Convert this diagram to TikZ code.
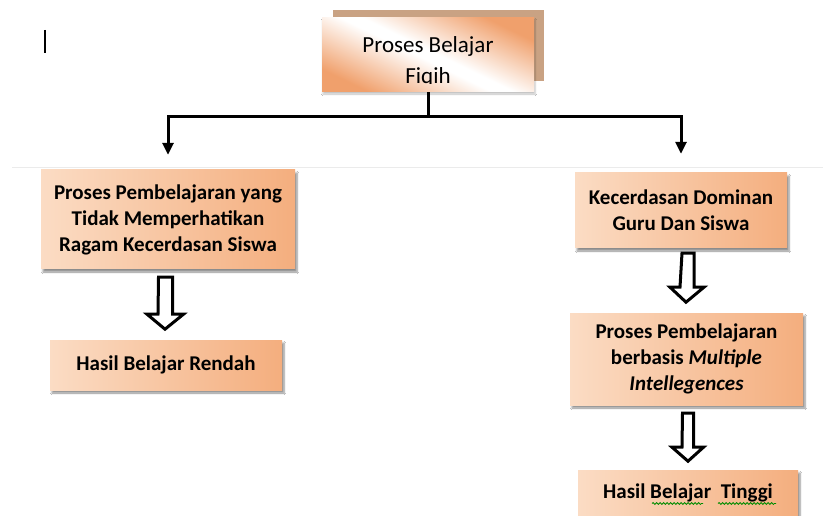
\documentclass[tikz,border=0pt]{standalone}
\usepackage{fontspec}
\setmainfont{Carlito}
\usetikzlibrary{calc,arrows.meta,shadows.blur,decorations.pathmorphing}
\definecolor{peachL}{HTML}{FBDCC4}
\definecolor{peachR}{HTML}{F4AE7E}
\definecolor{topO}{HTML}{F0A06C}
\definecolor{topShadow}{HTML}{C9A283}
\pgfdeclarehorizontalshading{streak}{100bp}{color(0bp)=(topO); color(25bp)=(topO); color(48bp)=(white); color(52bp)=(white); color(75bp)=(topO); color(100bp)=(topO)}
\tikzset{
  box/.style={draw=none, shading=axis, left color=peachL, right color=peachR,
    inner sep=0pt, align=center,
    font=\bfseries\fontsize{21}{26}\selectfont,
    blur shadow={shadow xshift=2pt, shadow yshift=-3pt, shadow blur steps=6, shadow opacity=45}},
  topbox/.style={draw=none, shading=streak, shading angle=64, inner sep=0pt,
    blur shadow={shadow xshift=1pt, shadow yshift=-2pt, shadow blur steps=4, shadow opacity=25}},
  toptext/.style={inner sep=0pt, anchor=base, font=\fontsize{23}{30}\selectfont},
  conn/.style={line width=3pt, draw=black},
  tip/.style={-{Triangle[length=12pt,width=11pt]}},
  hollow/.style={draw=black, line width=3pt, fill=white, line join=miter},
  squig/.style={draw=green!55!black, line width=0.8pt, decorate,
    decoration={snake, amplitude=1pt, segment length=3.5pt}}
}
\begin{document}
\begin{tikzpicture}[x=1pt,y=-1pt]
\useasboundingbox (0,0) rectangle (823,516);
\fill[white] (0,0) rectangle (823,516);
% faint rule and cursor bar
\draw[black!8, line width=1pt] (12,168) -- (823,168);
\draw[black, line width=2.6pt] (45,30) -- (45,53);

% top box
\fill[topShadow] (333,10) rectangle (544,81);
\node[topbox, minimum width=212pt, minimum height=74pt] (top) at (428,55) {};
\begin{scope}
  \clip (322,18) rectangle (534,84);
  \node[toptext] (t1) at (428,53) {Proses Belajar};
  \node[toptext] (t2) at (428,84) {Fiqih};
\end{scope}

% boxes
\node[box, minimum width=254pt, minimum height=99pt] (L1) at (168,219.5)
  {Proses Pembelajaran yang\\Tidak Memperhatikan\\Ragam Kecerdasan Siswa};
\node[box, minimum width=232pt, minimum height=50pt] (L2) at (166,365)
  {Hasil Belajar Rendah};
\node[box, minimum width=212pt, minimum height=75pt] (R1) at (681,210.5)
  {Kecerdasan Dominan\\Guru Dan Siswa};
\node[box, minimum width=233pt, minimum height=92pt] (R2) at (686.5,359)
  {Proses Pembelajaran\\berbasis \textit{Multiple}\\\textit{Intellegences}};
\node[box, minimum width=220pt, minimum height=45pt] (R3) at (688,492.5)
  {Hasil Belajar\ \ Tinggi};

% spell-check squiggles
\draw[squig] ($(R3.center)+(-36,11)$) -- ($(R3.center)+(15,11)$);
\draw[squig] ($(R3.center)+(30,11)$) -- ($(R3.center)+(88,11)$);

% connectors from top box
\draw[conn, tip, shorten >=15pt] (top.south) -- ++(0,24) -| (L1.north);
\draw[conn, tip, shorten >=19pt] (top.south) -- ++(0,24) -| (R1.north);

% hollow arrows
\draw[hollow] ($(L1.south)+(-9.5,8)$) -- ++(14,0) -- ++(0,37) -- ++(11,0)
  -- ($(L1.south)+(-3,60)$) -- ++(-18,-15) -- ++(11,0) -- cycle;
\draw[hollow] ($(R1.south)+(1,5)$) -- ++(12,0) -- ++(0,34) -- ++(10,0)
  -- ($(R1.south)+(5,54)$) -- ++(-16,-15) -- ++(10,0) -- cycle;
\draw[hollow] ($(R2.south)+(-4,8)$) -- ++(11,0) -- ++(0,34) -- ++(10,0)
  -- ($(R2.south)+(1.5,56)$) -- ++(-16,-14) -- ++(10,0) -- cycle;
\end{tikzpicture}
\end{document}
